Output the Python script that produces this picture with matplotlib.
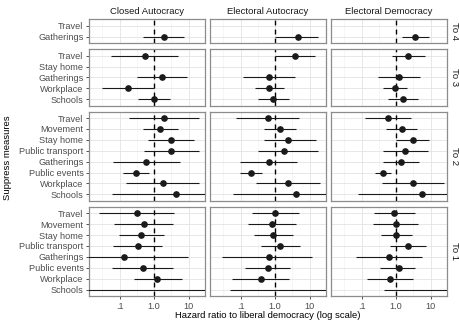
import numpy as np
import matplotlib.pyplot as plt
from matplotlib.ticker import FixedLocator, NullFormatter

plt.rcParams['font.family'] = ['Liberation Sans', 'DejaVu Sans']

nan = np.nan

regimes = ['Closed Autocracy', 'Electoral Autocracy', 'Electoral Democracy']
transitions = ['To 4', 'To 3', 'To 2', 'To 1']

measures_to4 = ['Travel', 'Gatherings']
measures_to3 = ['Travel', 'Stay home', 'Gatherings', 'Workplace', 'Schools']
measures_to2 = ['Travel', 'Movement', 'Stay home', 'Public transport',
                'Gatherings', 'Public events', 'Workplace', 'Schools']
measures_to1 = ['Travel', 'Movement', 'Stay home', 'Public transport',
                'Gatherings', 'Public events', 'Workplace', 'Schools']

# hazard ratios and 95% intervals, one list per regime (CA, EA, ED)
hr_to4 = [[nan, 1.95], [nan, 4.5], [nan, 3.5]]
lo_to4 = [[nan, 0.49], [nan, 1.0], [nan, 1.45]]
hi_to4 = [[nan, 7.4], [nan, 18], [nan, 8.9]]

hr_to3 = [[0.54, nan, 1.74, 0.18, 1.0],
          [3.85, nan, 0.65, 0.68, 0.9],
          [2.2, nan, 1.2, 0.95, 1.6]]
lo_to3 = [[0.058, nan, 0.33, 0.031, 0.34],
          [1.0, nan, 0.117, 0.26, 0.32],
          [0.76, nan, 0.30, 0.43, 0.59]]
hi_to3 = [[5.0, nan, 8.9, 0.97, 2.9],
          [14, nan, 3.7, 1.8, 2.5],
          [7.0, nan, 4.9, 2.1, 4.4]]

hr_to2 = [[1.95, 1.5, 3.0, 3.2, 0.57, 0.30, 1.79, 4.4],
          [0.61, 1.38, 2.35, 1.84, 0.65, 0.20, 2.35, 4.0],
          [0.59, 1.44, 3.0, 1.85, 1.38, 0.41, 3.07, 5.7]]
lo_to2 = [[0.19, 0.47, 0.66, 0.51, 0.066, 0.13, 0.15, 0.059],
          [0.075, 0.47, 0.47, 0.33, 0.094, 0.094, 0.28, 0.062],
          [0.125, 0.52, 1.0, 0.41, 0.43, 0.24, 0.38, 0.078]]
hi_to2 = [[20.6, 5.0, 14.1, 19.8, 5.6, 0.72, 20.6, 40],
          [5.0, 4.1, 15, 18, 4.4, 0.43, 20, 40],
          [2.76, 4.1, 9.2, 8.6, 4.5, 0.73, 25, 40]]

hr_to1 = [[0.31, 0.50, 0.43, 0.34, 0.135, 0.48, 1.25, nan],
          [1.03, 0.83, 0.9, 1.41, 0.65, 0.61, 0.38, nan],
          [0.89, 0.99, 1.03, 2.2, 0.61, 1.18, 0.68, nan]]
lo_to1 = [[0.026, 0.071, 0.097, 0.066, 0.005, 0.062, 0.26, 0.005],
          [0.21, 0.16, 0.25, 0.39, 0.029, 0.137, 0.056, 0.05],
          [0.23, 0.21, 0.36, 0.69, 0.067, 0.35, 0.14, 0.44]]
hi_to1 = [[3.9, 3.6, 1.95, 1.74, 9.5, 3.6, 6.5, 40],
          [5.1, 4.0, 3.4, 5.2, 12, 2.8, 2.5, 40],
          [3.5, 4.4, 2.95, 7.3, 5.5, 3.6, 3.2, 40]]

x_ticks = [0.1, 1, 10]
x_ticklabels = ['.1', '1.0', '10']

rows = [
    (measures_to4, hr_to4, lo_to4, hi_to4),
    (measures_to3, hr_to3, lo_to3, hi_to3),
    (measures_to2, hr_to2, lo_to2, hi_to2),
    (measures_to1, hr_to1, lo_to1, hi_to1),
]

W, H = 459, 322
fig = plt.figure(figsize=(W / 100, H / 100), dpi=100)
gs = fig.add_gridspec(4, 3, height_ratios=[len(r[0]) + 0.2 for r in rows],
                      left=89 / W, right=447 / W, top=1 - 19.3 / H,
                      bottom=1 - 296.1 / H, hspace=0.0894, wspace=0.043)

ink = '#1a1a1a'
for i, (cats, hr, lo, hi) in enumerate(rows):
    n = len(cats)
    y = np.arange(n)
    for j in range(3):
        ax = fig.add_subplot(gs[i, j])
        ax.set_xscale('log')
        ax.hlines(y, lo[j], hi[j], color=ink, lw=0.8, zorder=3)
        ax.plot(hr[j], y, 'o', color=ink, ms=3.8, zorder=4)
        ax.axvline(1, color='black', lw=1.0, ls=(0, (3.5, 3)), zorder=2)
        ax.set_xlim(0.013, 30)
        ax.set_ylim(n - 0.4, -0.6)
        ax.set_xticks(x_ticks)
        ax.xaxis.set_minor_locator(FixedLocator([10 ** -1.5, 10 ** -0.5, 10 ** 0.5]))
        ax.xaxis.set_minor_formatter(NullFormatter())
        ax.set_yticks(y)
        ax.grid(which='major', color='#E3E3E3', lw=0.6)
        ax.grid(which='minor', axis='x', color='#F0F0F0', lw=0.4)
        ax.set_axisbelow(True)
        for s in ax.spines.values():
            s.set_color('#8c8c8c')
            s.set_linewidth(0.9)
        ax.tick_params(which='minor', length=0)
        if j == 0:
            ax.set_yticklabels(cats)
            ax.tick_params(axis='y', length=2.5, width=0.6, color='#333333',
                           labelsize=6.6, labelcolor='#4d4d4d', pad=1.5)
        else:
            ax.tick_params(axis='y', length=0, labelleft=False)
        if i == 3:
            ax.set_xticklabels(x_ticklabels)
            ax.tick_params(axis='x', length=2.5, width=0.6, color='#333333',
                           labelsize=6.6, labelcolor='#4d4d4d', pad=1.5)
        else:
            ax.tick_params(axis='x', which='major', length=0, labelbottom=False)
        if i == 0:
            ax.set_title(regimes[j], fontsize=6.8, color='#1a1a1a', pad=3.5)
        if j == 2:
            ax.annotate(transitions[i], xy=(1, 0.5), xycoords='axes fraction',
                        xytext=(2.5, 0), textcoords='offset points',
                        rotation=-90, va='center', ha='left',
                        fontsize=6.8, color='#1a1a1a')

fig.text(8 / W, 1 - 158 / H, 'Suppress measures', rotation=90,
         ha='center', va='center', fontsize=6.8)
fig.text(268 / W, 1 - 315 / H, 'Hazard ratio to liberal democracy (log scale)',
         ha='center', va='center', fontsize=6.8)

fig.savefig('out.png', dpi=100)
